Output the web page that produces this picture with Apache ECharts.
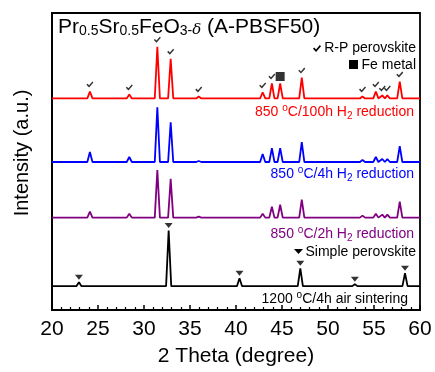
<!DOCTYPE html>
<html><head><meta charset="utf-8">
<script src="https://cdn.jsdelivr.net/npm/echarts@6/dist/echarts.min.js"></script>
<style>html,body{margin:0;padding:0;background:#fff}#c{width:435px;height:372px}</style>
</head><body><div id="c"></div>
<script>
// X ticks
const xTicks = [20, 25, 30, 35, 40, 45, 50, 55, 60];
// R-P perovskite / reduced phases peak positions (2θ)
const rpPeaks = [24.12, 28.4, 31.45, 32.9, 35.95, 42.9, 43.9, 44.8, 47.15, 53.75, 55.2, 55.9, 56.45, 57.8];
const feIndex = 7; // 44.8 is the Fe metal peak
// peak heights (a.u.) per trace
const red100h = [7, 4, 52, 40, 2, 6, 15, 15, 21, 2, 7, 3, 3, 17];
const blue4h = [10, 5, 55, 40, 1, 8, 14, 14, 20, 2, 5, 3, 3, 16];
const purple2h = [6, 4, 48, 39, 1, 4, 11, 13, 18, 2, 4, 3, 3, 16];
// simple perovskite (air sintered)
const spPeaks = [22.93, 32.68, 40.38, 46.99, 52.92, 58.37];
const black1200 = [4, 56, 8, 18, 2, 13];
// baseline offsets of the stacked traces (a.u.)
const offsets = {red: 213, blue: 149, purple: 93, black: 24};

function trace(pos, h, base) {
  const pts = [[20, base]];
  pos.forEach((p, i) => { pts.push([p - 0.28, base], [p, base + h[i]], [p + 0.28, base]); });
  pts.push([60, base]);
  return pts;
}
const FONT = 'Liberation Sans';
const checkPath = 'path://M0,6 L2,4 L5,7 L11,0 L13,2 L5,11 Z';

const chart = echarts.init(document.getElementById('c'));
const lineS = (name, data, color) => ({
  name, type: 'line', data, showSymbol: false, symbol: 'none',
  lineStyle: {color, width: 1.8}, z: 2, animation: false
});
chart.setOption({
  animation: false,
  grid: {left: 52, right: 15, top: 13, bottom: 60, show: true, borderColor: '#000', borderWidth: 1.8},
  xAxis: {
    type: 'value', min: xTicks[0], max: xTicks[xTicks.length - 1], interval: 5,
    axisLine: {lineStyle: {color: '#000', width: 1.8}},
    axisTick: {inside: true, length: 5, lineStyle: {color: '#000', width: 1.5}},
    minorTick: {show: true, splitNumber: 5, length: 3, lineStyle: {color: '#000', width: 1.2}},
    splitLine: {show: false},
    axisLabel: {color: '#000', fontSize: 21, fontFamily: FONT, margin: 9},
    name: '2 Theta (degree)', nameLocation: 'middle', nameGap: 36,
    nameTextStyle: {color: '#000', fontSize: 21, fontFamily: FONT}
  },
  yAxis: {
    type: 'value', min: 0, max: 299,
    axisLine: {show: true, lineStyle: {color: '#000', width: 1.8}},
    axisTick: {show: false}, axisLabel: {show: false}, splitLine: {show: false}
  },
  series: [
    lineS('red', trace(rpPeaks, red100h, offsets.red), '#ff0000'),
    lineS('blue', trace(rpPeaks, blue4h, offsets.blue), '#0000ff'),
    lineS('purple', trace(rpPeaks, purple2h, offsets.purple), '#800080'),
    lineS('black', trace(spPeaks, black1200, offsets.black), '#000000'),
    {type: 'scatter', symbol: checkPath, symbolSize: [7, 6], symbolOffset: [0, -7],
     itemStyle: {color: '#000'}, z: 5,
     data: rpPeaks.map((p, i) => [p, offsets.red + red100h[i]]).filter((d, i) => i !== feIndex)},
    {type: 'scatter', symbol: 'rect', symbolSize: 9, symbolOffset: [0, -7],
     itemStyle: {color: '#000'}, z: 5,
     data: [[rpPeaks[feIndex], offsets.red + red100h[feIndex]]]},
    {type: 'scatter', symbol: 'triangle', symbolRotate: 180, symbolSize: [8, 5], symbolOffset: [0, -5],
     itemStyle: {color: '#000'}, z: 5,
     data: spPeaks.map((p, i) => [p, offsets.black + black1200[i]])}
  ],
  graphic: [
    {type: 'text', left: 58, top: 17, style: {
      text: '{a|Pr}{s|0.5}{a|Sr}{s|0.5}{a|FeO}{s|3-}{d|δ}{a| (A-PBSF50)}',
      rich: {
        a: {fontSize: 21, fontFamily: FONT, fill: '#000', verticalAlign: 'bottom', lineHeight: 24},
        s: {fontSize: 14, fontFamily: FONT, fill: '#000', verticalAlign: 'bottom', lineHeight: 19},
        d: {fontSize: 15, fontFamily: 'DejaVu Serif', fontStyle: 'italic', fill: '#000', verticalAlign: 'bottom', lineHeight: 19}
      }}},
    {type: 'text', x: 22, y: 153, rotation: Math.PI / 2, style: {
      text: 'Intensity (a.u.)', fontSize: 20, fontFamily: FONT, fill: '#000', align: 'center', verticalAlign: 'middle'}},
    {type: 'polygon', shape: {points: [[313, 48.8], [314.2, 47.6], [316.1, 49.5], [319.8, 45], [321, 46.3], [316.1, 52]]}, style: {fill: '#000'}},
    {type: 'text', x: 416, y: 48, style: {text: 'R-P perovskite', fontSize: 14, fontFamily: FONT, fill: '#000', align: 'right', verticalAlign: 'middle'}},
    {type: 'rect', shape: {x: 349, y: 60, width: 9, height: 9}, style: {fill: '#000'}},
    {type: 'text', x: 416, y: 65, style: {text: 'Fe metal', fontSize: 14, fontFamily: FONT, fill: '#000', align: 'right', verticalAlign: 'middle'}},
    {type: 'polygon', shape: {points: [[294, 249], [303, 249], [298.5, 254]]}, style: {fill: '#000'}},
    {type: 'text', x: 416, y: 252, style: {text: 'Simple perovskite', fontSize: 14, fontFamily: FONT, fill: '#000', align: 'right', verticalAlign: 'middle'}},
    ...[
      ['850 ', '/100h H', ' reduction', '#ff0000', 112],
      ['850 ', '/4h H', ' reduction', '#0000ff', 174],
      ['850 ', '/2h H', ' reduction', '#800080', 234]
    ].map(([a, b, c, col, y]) => ({
      type: 'text', x: 414, y, style: {
        text: `{n|${a}}{u|o}{n|C${b}}{b|2}{n|${c}}`, align: 'right', verticalAlign: 'middle',
        rich: {
          n: {fontSize: 14, fontFamily: FONT, fill: col, verticalAlign: 'middle', lineHeight: 18},
          u: {fontSize: 10, fontFamily: FONT, fill: col, verticalAlign: 'top', lineHeight: 18},
          b: {fontSize: 10, fontFamily: FONT, fill: col, verticalAlign: 'bottom', lineHeight: 16}
        }}})),
    {type: 'text', x: 408, y: 299, style: {
      text: '{n|1200 }{u|o}{n|C/4h air sintering}', align: 'right', verticalAlign: 'middle',
      rich: {
        n: {fontSize: 14, fontFamily: FONT, fill: '#000', verticalAlign: 'middle', lineHeight: 18},
        u: {fontSize: 10, fontFamily: FONT, fill: '#000', verticalAlign: 'top', lineHeight: 18}
      }}}
  ]
});
</script></body></html>
